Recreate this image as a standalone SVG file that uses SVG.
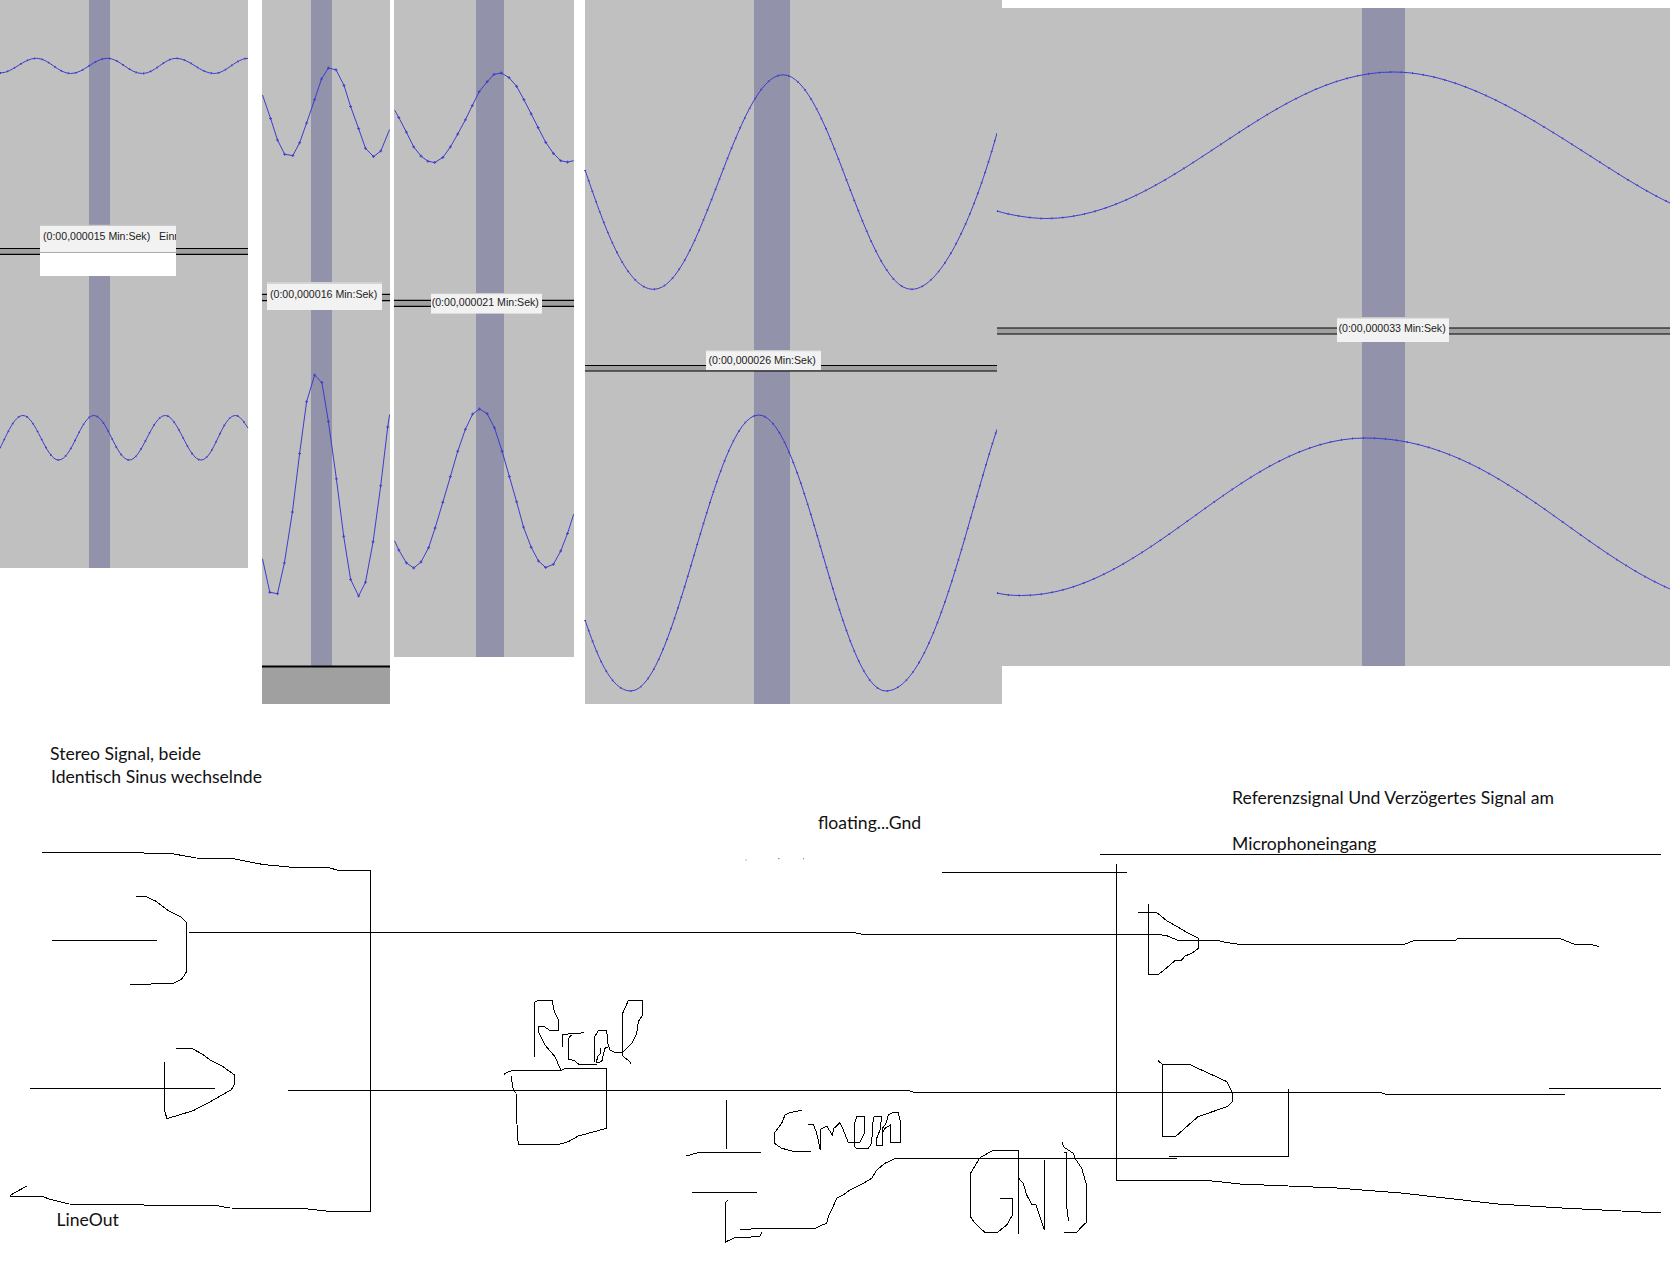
<svg xmlns="http://www.w3.org/2000/svg" width="1670" height="1272" viewBox="0 0 1670 1272">
<style>
.bg{fill:#c0c0c0}.band{fill:#9292aa}.sep{fill:#a0a0a0}
.rule{stroke:#000;stroke-width:1.2;fill:none}
.wave{fill:none;stroke:#3c3ccc;stroke-width:1}
.dots{fill:none;stroke:#3c3ccc;stroke-width:2;stroke-dasharray:1 10}
.tip{font:10.6px "Liberation Sans",Arial,sans-serif;fill:#222}
.tipbox{fill:#f2f2f2}
.w{fill:none;stroke:#000;stroke-width:1;shape-rendering:crispEdges}
.lbl{font:17.6px Lato,"Open Sans",sans-serif;fill:#111}
</style>
<defs>
<marker id="m" markerWidth="4" markerHeight="4" refX="2" refY="2" markerUnits="userSpaceOnUse"><path d="M0.5 2H3.5M2 0.5V3.5" stroke="#3c3ccc" stroke-width="0.9"/></marker>
<clipPath id="c1"><rect x="40" y="225" width="136" height="51"/></clipPath>
</defs>
<rect width="1670" height="1272" fill="#fff"/>

<g id="panel1">
<rect class="bg" x="0" y="0" width="248" height="568"/>
<rect class="band" x="89" y="0" width="21" height="568"/>
<rect class="sep" x="0" y="248.5" width="248" height="6"/>
<path class="rule" d="M0 248.5H248M0 254.3H248"/>
<path class="wave" d="M0,73 C13,73 23,58.3 36.4,58.3 C49,58.3 58,73.5 70.8,73.5 C84,73.5 94,58.3 107.2,58.3 C120,58.3 129,73.5 142.4,73.5 C155,73.5 164,58.3 176,58.3 C190,58.3 200,73.5 214.3,73.5 C226,73.5 236,58.3 248,58.3"/>
<path class="dots" style="stroke-dasharray:1 6.5" d="M0,73 C13,73 23,58.3 36.4,58.3 C49,58.3 58,73.5 70.8,73.5 C84,73.5 94,58.3 107.2,58.3 C120,58.3 129,73.5 142.4,73.5 C155,73.5 164,58.3 176,58.3 C190,58.3 200,73.5 214.3,73.5 C226,73.5 236,58.3 248,58.3"/>
<path class="wave" d="M0,448 C7,435 14,415.5 23,415.5 C36,415.5 45.6,460 58.6,460 C72,460 81,415.5 93.8,415.5 C107,415.5 116,460 129.4,460 C142,460 152,415.5 165.3,415.5 C178,415.5 188,460 201,460 C214,460 222,415.5 235.4,415.5 C240,415.5 244,422 248,428"/>
<path class="dots" style="stroke-dasharray:1 8" d="M0,448 C7,435 14,415.5 23,415.5 C36,415.5 45.6,460 58.6,460 C72,460 81,415.5 93.8,415.5 C107,415.5 116,460 129.4,460 C142,460 152,415.5 165.3,415.5 C178,415.5 188,460 201,460 C214,460 222,415.5 235.4,415.5 C240,415.5 244,422 248,428"/>
<rect x="40" y="225" width="136" height="51" fill="#fff"/>
<rect class="tipbox" x="40" y="227" width="136" height="25"/>
<path d="M40 225.5H176" stroke="#c8c8c8" stroke-width="1.5"/>
<path d="M40 252.5H176" stroke="#aaa" stroke-width="1"/>
<g clip-path="url(#c1)"><text class="tip" x="43" y="240" xml:space="preserve">(0:00,000015 Min:Sek)   Einr</text></g>
</g>

<g id="panel2">
<rect class="bg" x="262" y="0" width="128" height="666"/>
<rect class="band" x="311" y="0" width="21" height="666"/>
<rect x="262" y="666" width="128" height="38" fill="#a0a0a0"/>
<path d="M262 666.6H390" stroke="#000" stroke-width="2"/>
<rect class="sep" x="262" y="294.3" width="128" height="6.4"/>
<path class="rule" d="M262 294.3H390M262 300.7H390"/>
<polyline class="wave" marker-mid="url(#m)" points="262.5,95 270.6,118.5 277.5,140 284.7,154.3 292.8,155.6 299.6,142.8 306.6,123 314.6,99.6 321.5,79 328.4,68 336,69.8 344,85.4 350.6,106.5 358.6,128.6 365.5,148.3 373.5,156.6 380.8,151 389.6,129.5"/>
<polyline class="wave" marker-mid="url(#m)" points="262.5,558.8 269.8,592.3 277.5,593.7 284.4,562.9 292.4,512 299.6,453.6 306.6,401.7 314.6,375.1 321.9,382.5 328.4,421.5 336.4,478.9 343.7,536.3 350.6,579.4 358.6,596 365.5,582.2 373.1,541.8 380.7,485.8 387.7,427 389.6,414.6"/>
<rect class="tipbox" x="267" y="282" width="115" height="28"/>
<path d="M267 283H382" stroke="#c8c8c8" stroke-width="1.5"/>
<text class="tip" x="270" y="297.5">(0:00,000016 Min:Sek)</text>
</g>

<g id="panel3">
<rect class="bg" x="394" y="0" width="180" height="657"/>
<rect class="band" x="476" y="0" width="28" height="657"/>
<rect class="sep" x="394" y="300.3" width="180" height="6"/>
<path class="rule" d="M394 300.3H574M394 306.3H574"/>
<polyline class="wave" marker-mid="url(#m)" points="394.6,110.2 398.8,117.5 406.4,132.2 413.7,146.9 421,156.1 427.9,161.2 434.7,162.5 442.8,157.5 450.4,146.9 457.7,134.1 465.4,119.8 472.3,105.6 479.1,91.8 487.2,81.7 494,74.4 501.3,73 509,77.6 516.6,86.3 523.9,99.6 531.2,113.9 538.1,127.6 545.7,142.3 553.4,153.4 560.7,160.7 567.5,162.1 573.7,160.7"/>
<polyline class="wave" marker-mid="url(#m)" points="394.6,540.9 398.8,550 406.4,562.9 413.7,568 421,562 428.6,547.7 435.1,528 442.8,502.3 450.4,476.6 457.7,451.3 465.4,429.3 472.6,414.1 479.5,409 487.2,413.7 494.5,427.9 502.1,451.3 509.4,476.6 516.6,501.8 523.5,527.1 531.2,547.3 538.5,561 545.7,567.5 553.4,564.3 560.7,551 567.5,533.5 573.7,514.2"/>
<rect class="tipbox" x="431" y="293" width="111" height="20.6"/>
<path d="M431 293.6H542" stroke="#c8c8c8" stroke-width="1"/>
<text class="tip" x="431.7" y="305.7">(0:00,000021 Min:Sek)</text>
</g>

<g id="panel4">
<rect class="bg" x="585" y="0" width="417" height="704"/>
<rect class="band" x="754" y="0" width="36" height="704"/>
<rect class="sep" x="585" y="365.5" width="412" height="5.6"/>
<path class="rule" d="M585 365.5H997M585 371H997"/>
<path class="wave" d="M585,170 C603,222 625,289.3 653.7,289.3 C700.7,289.3 736,74.8 783,74.8 C830,74.8 864.6,289.3 911.6,289.3 C942,289.3 975,213 997,133"/>
<path class="dots" d="M585,170 C603,222 625,289.3 653.7,289.3 C700.7,289.3 736,74.8 783,74.8 C830,74.8 864.6,289.3 911.6,289.3 C942,289.3 975,213 997,133"/>
<path class="wave" d="M585,620 C596,652 610,691 630.7,691 C677,691 712.4,415 758.7,415 C805,415 839.6,691 885.9,691 C932,691 964,530 997,429.3"/>
<path class="dots" d="M585,620 C596,652 610,691 630.7,691 C677,691 712.4,415 758.7,415 C805,415 839.6,691 885.9,691 C932,691 964,530 997,429.3"/>
<rect class="tipbox" x="706" y="350" width="115" height="20"/>
<path d="M706 350.7H821" stroke="#c8c8c8" stroke-width="1"/>
<text class="tip" x="708.6" y="364">(0:00,000026 Min:Sek)</text>
</g>

<g id="panel5">
<rect class="bg" x="997" y="8" width="673" height="658"/>
<rect class="band" x="1362" y="8" width="43" height="658"/>
<rect class="sep" x="997" y="328" width="673" height="6"/>
<path class="rule" d="M997 328H1670M997 334H1670"/>
<path class="wave" d="M997,211 C1010,215 1030,218.5 1045.8,218.5 C1172,218.5 1267,72 1393.3,72 C1490,72 1590,165 1670,203"/>
<path class="dots" d="M997,211 C1010,215 1030,218.5 1045.8,218.5 C1172,218.5 1267,72 1393.3,72 C1490,72 1590,165 1670,203"/>
<path class="wave" d="M997,593 C1005,595 1013,595.5 1021.4,595.5 C1147,595.5 1240,438 1365.5,438 C1490,438 1570,545 1670,589"/>
<path class="dots" d="M997,593 C1005,595 1013,595.5 1021.4,595.5 C1147,595.5 1240,438 1365.5,438 C1490,438 1570,545 1670,589"/>
<rect class="tipbox" x="1337" y="317" width="112" height="25"/>
<path d="M1337 317.7H1449" stroke="#c8c8c8" stroke-width="1.5"/>
<text class="tip" x="1338.5" y="332">(0:00,000033 Min:Sek)</text>
</g>

<g id="labels">
<text class="lbl" x="50" y="759.5">Stereo Signal, beide</text>
<text class="lbl" x="51" y="782.5">Identisch Sinus wechselnde</text>
<text class="lbl" x="56.5" y="1225.5">LineOut</text>
<text class="lbl" x="818" y="829">floating...Gnd</text>
<text class="lbl" x="1232" y="803.5">Referenzsignal Und Verzögertes Signal am</text>
<text class="lbl" x="1232" y="849.5">Microphoneingang</text>
</g>

<g id="connectors">
<polyline class="w" points="42,852.5 138.4,852.5 149.6,853.5 174,854 196,858 232,858.5 263,864.5 294.6,867.5 328,867.5 339,870.5 370.5,870.5 370.5,1211.5 330,1211.5 303.6,1208.5 230,1208 218.7,1206 69,1204 49,1199 41.5,1196 9.8,1196"/>
<path class="w" d="M9.8,1195.5 L26.8,1186"/>
<polyline class="w" points="188.5,932.5 853.3,932.5 863,934.5 1159.3,934.5 1166.7,935.7 1178.3,940.5 1218.3,940.5 1225,942.3 1240,944.5 1404.2,944.5 1413.9,940.5 1455.8,940.5 1457.7,938.5 1560,938.5 1573.7,944 1591,944.5 1598.8,946.5"/>
<polyline class="w" points="288,1090.5 908,1090.5 914.5,1092.5 1380.4,1092.5 1386.8,1094.5 1565.3,1094.5"/>
<path class="w" d="M1549.2,1088.5H1661"/>
<path class="w" d="M51.8,940.5H157"/>
<path class="w" d="M30,1088.5H215.2"/>
<path class="w" d="M1100,854.5H1661"/>
<path class="w" d="M942.2,872.5H1126.5"/>
<path class="w" d="M1116.5,864V1180.5"/>
<polyline class="w" points="1116.5,1180.5 1207.7,1180.5 1240,1184 1336.6,1188 1401,1193 1497.6,1204 1562,1208 1661,1213"/>
<polyline class="w" points="727.7,1200.5 725.5,1202.3 725.5,1242 734,1238 759.9,1236.5 761.8,1232"/>
<polyline class="w" points="740.5,1230 756.6,1228.5 815,1228.5 821.7,1225 826.7,1223.3 828.3,1216.7 832.3,1208.3 836.7,1198.3 843.3,1195 850,1190 863.3,1183.3 871.7,1178.3 876.7,1170 885,1163.3 895,1158.5 1177.4,1158.5"/>
<polyline class="w" points="1169,1156.5 1288.5,1156.5 1288.5,1088.5"/>
<path d="M745.5,860h1M778,858.7h1.5M803,858.7h1" stroke="#777" stroke-width="1" fill="none"/>
</g>

<g id="amp1"><polyline class="w" points="136,896.5 147.3,897 156,901.3 167.4,910 180.8,917 186.5,922.5 186.5,971.8 182,978.8 173,983.5 130,984.5"/></g>
<g id="amp2"><polyline class="w" points="164.5,1061.9 164.5,1110.8 167,1118.6 192.9,1110.8 209.8,1102 218.8,1096.8 231.3,1089.7 234.5,1084.4 234.5,1075 223.2,1066.8 209.8,1059.8 203,1054.5 192,1048.5 175.9,1048.5"/></g>
<g id="amp3"><polyline class="w" points="1148.5,904 1148.5,974.5 1158.3,974.5 1163.3,970.7 1170,965 1175,960.7 1181.7,960 1185,956 1191.7,953.3 1198.5,948.3 1198.5,938.3 1188.3,933.3 1178.3,927.3 1166.7,920.7 1156.7,912.5 1138,912.5"/></g>
<g id="amp4"><polyline class="w" points="1158,1060.7 1162.5,1064.5 1189.6,1064.5 1227,1081.7 1232.5,1093.3 1232.5,1101.7 1227,1106.7 1198,1116.7 1175.5,1136.5 1162.5,1136.5 1162.5,1064.5"/></g>

<g id="resistor-doodle">
<polyline class="w" points="504.3,1074.3 506.7,1072.3 513.3,1070.5 560.7,1070.5 565,1068.5 606.5,1068.5 606.5,1128.3 578.3,1136 568.3,1141.7 558.3,1144.5 518.3,1144.5 517.3,1133.3 516,1093.3 513.3,1090 511,1076"/>
<polyline class="w" points="534.5,1056.7 534.5,1002.3 538.3,1000.5 552.3,1000.5 554.3,1011.7 558.5,1020 558.5,1030 549.3,1030 544.3,1026.7 538.7,1026.7 539,1033.3 545,1045 555,1056.7 559.3,1066.7 561,1070"/>
<polyline class="w" points="562.5,1046.7 562.5,1034.3 580,1033.3 584.3,1032.3"/>
<polyline class="w" points="571.3,1035 568.5,1038.3 568.5,1059 575,1061 579,1064.5 596.7,1064.5"/>
<polyline class="w" points="594.7,1061.7 594.7,1036.7 598.3,1030.7 606.7,1030.7 608.3,1046.7 605,1048.3 601.7,1061.7 596.7,1062.7 597.3,1056.7 600.5,1053.3 600.5,1048.3"/>
<polyline class="w" points="608.3,1045 610,1050 615,1052.5 622.7,1052.5 622.7,1013.3 628.3,1000.5 642.7,1000.5 642.7,1015 638.3,1021.7 636.7,1033.3 631.7,1043.3 622.7,1052.5 622.7,1056 630,1061.7 630.7,1064.3"/>
</g>

<g id="capacitor">
<path class="w" d="M726.5,1100V1148.5"/>
<polyline class="w" points="686.4,1156 698.7,1152.5 761.2,1152.5"/>
<path class="w" d="M692.2,1192.5H757.3"/>
</g>

<g id="cmom-doodle">
<polyline class="w" points="802.3,1110 790,1112.7 785,1115 781.7,1123.3 775,1132.3 774.3,1143.3 781.7,1148.3 795,1151.7 810.7,1151.7"/>
<polyline class="w" points="808.3,1124 813.3,1124 816.7,1133.3 820.3,1150 820.3,1129.3 826.7,1126 832.3,1135 834,1128.3 840,1122.7 843.3,1130 848.3,1142.3 860,1142.3 864.5,1133.3 864.5,1116.7 856.7,1116.7 854.5,1123.3 854.5,1146.7 856.7,1148.3 868.3,1148.3 871.7,1143.3 872.7,1123.3 874,1116.7 881.7,1116.7 880,1130 876.7,1138.3 876.7,1145.7 882.5,1145.7 882.5,1128.3 886,1123.3 888.3,1115 892.3,1112.7 898.3,1112.7 900.5,1121.7 900.5,1142.3 890.5,1142.3 890.5,1125 885,1128.3 882.5,1133"/>
</g>

<g id="gnd-doodle">
<polyline class="w" points="1018.7,1234.3 1018.7,1150.5 992.7,1150.5 980,1157.7 970.5,1173.3 970.5,1216.7 975,1223.3 985,1232.5 997.3,1232.5 1006.7,1225 1012.5,1215 1012.5,1198.5 1000,1198.5"/>
<polyline class="w" points="1018.7,1178.3 1023.3,1183.3 1026.7,1195 1031.7,1204.3 1036,1205 1044.5,1230 1044.5,1160"/>
<polyline class="w" points="1062.3,1142.3 1063.3,1146.7 1073.3,1153.3 1075,1158.3 1081.7,1168.3 1086.5,1185 1086.5,1222.3 1081.7,1226.7 1076.7,1232.5 1064.3,1232.5"/>
<polyline class="w" points="1064.3,1152.5 1066.5,1152.5 1066.5,1205 1068.5,1221"/>
</g>
</svg>
